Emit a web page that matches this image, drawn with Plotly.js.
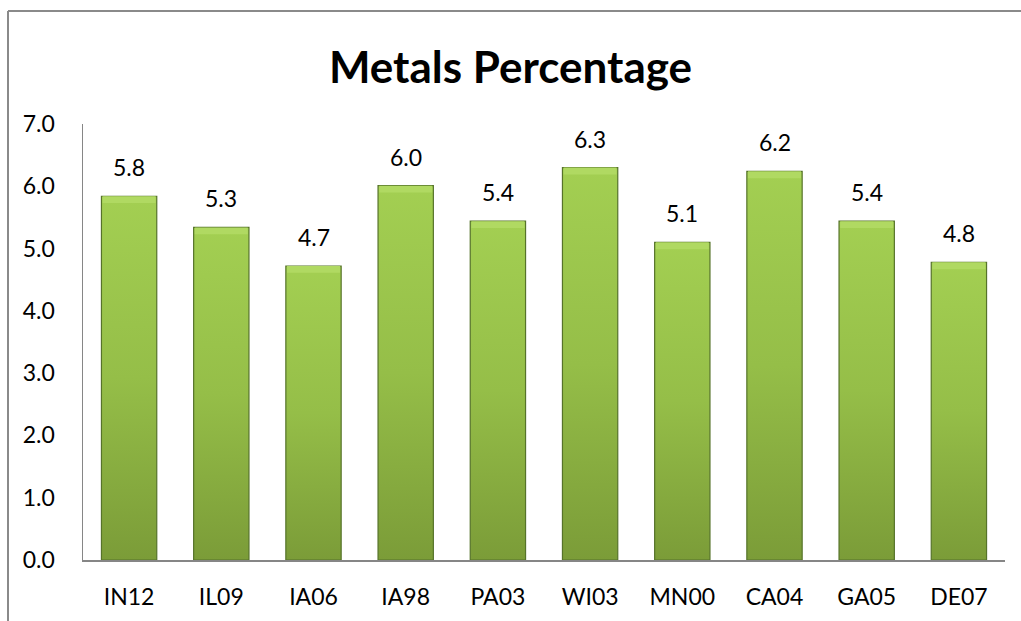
<!DOCTYPE html>
<html>
<head>
<meta charset="utf-8">
<script src="https://cdn.plot.ly/plotly-3.0.1.min.js"></script>
<style>
  html, body { margin: 0; padding: 0; background: #ffffff; overflow: hidden; }
  #chart { width: 1021px; height: 621px; }
</style>
</head>
<body>
<div id="chart"></div>
<script>
// ---- data ----
const categories = ["IN12", "IL09", "IA06", "IA98", "PA03", "WI03", "MN00", "CA04", "GA05", "DE07"];
const metalsPct  = [5.84, 5.34, 4.72, 6.01, 5.44, 6.30, 5.10, 6.24, 5.44, 4.78];
const yTickVals  = [0, 1, 2, 3, 4, 5, 6, 7];
const yTickText  = ["0.0", "1.0", "2.0", "3.0", "4.0", "5.0", "6.0", "7.0"];
const chartTitle = "Metals Percentage";

const FONT = "Lato, 'Open Sans', sans-serif";
const BAR_W = 0.6;
const BEVEL = 0.11; // depth of the lighter bevel band at the top of each bar (axis units)

const barTrace = {
  type: "bar",
  x: categories,
  y: metalsPct,
  width: BAR_W,
  marker: { color: "#95bd48", line: { color: "#56732a", width: 1.2 } },
  hoverinfo: "x+y",
  cliponaxis: false
};

const bevelTrace = {
  type: "bar",
  x: categories,
  base: metalsPct.map(v => v - BEVEL),
  y: metalsPct.map(() => BEVEL),
  width: BAR_W - 0.025,
  marker: { color: "#b0d962", line: { width: 0 } },
  hoverinfo: "skip"
};

const labelAnnotations = categories.map((c, i) => ({
  x: c, y: metalsPct[i], xref: "x", yref: "y",
  text: metalsPct[i].toFixed(1),
  showarrow: false, yanchor: "bottom", yshift: 13,
  font: { family: FONT, size: 23, color: "#000000" }
}));

// outer frame (left and top edges of the chart box)
const plotL = 83, plotT = 124, plotW = 922, plotH = 436;
const fx = (px) => (px - plotL) / plotW;
const fy = (py) => 1 - (py - plotT) / plotH;

const layout = {
  width: 1021, height: 621,
  margin: { l: plotL, r: 1021 - plotL - plotW, t: plotT, b: 621 - plotT - plotH, pad: 0 },
  paper_bgcolor: "#ffffff", plot_bgcolor: "#ffffff",
  title: {
    text: "<b>" + chartTitle + "</b>",
    font: { family: FONT, size: 44, color: "#000000" },
    x: 0.5, xanchor: "center", xref: "container",
    y: 1 - 68 / 621, yanchor: "middle", yref: "container"
  },
  barmode: "overlay",
  showlegend: false,
  xaxis: {
    type: "category",
    showline: true, linecolor: "#868686", linewidth: 1.5,
    ticks: "", showgrid: false, zeroline: false,
    ticklabelstandoff: 16,
    tickfont: { family: FONT, size: 23, color: "#000000" }
  },
  yaxis: {
    range: [0, 7],
    tickvals: yTickVals, ticktext: yTickText,
    showline: true, linecolor: "#868686", linewidth: 1.5,
    ticks: "", showgrid: false, zeroline: false,
    ticklabelstandoff: 22,
    tickfont: { family: FONT, size: 23, color: "#000000" }
  },
  annotations: labelAnnotations,
  shapes: [
    { type: "line", xref: "paper", yref: "paper", x0: fx(8), x1: fx(8), y0: fy(11), y1: fy(700),
      line: { color: "#8a8a8a", width: 2 } },
    { type: "line", xref: "paper", yref: "paper", x0: fx(8), x1: fx(1100), y0: fy(11), y1: fy(11),
      line: { color: "#8a8a8a", width: 2 } }
  ]
};

Plotly.newPlot("chart", [barTrace, bevelTrace], layout, { displayModeBar: false, staticPlot: true }).then(() => {
  // vertical green gradient on the main bars, like the original shaded fill
  const svg = document.querySelector("#chart svg.main-svg");
  const ns = "http://www.w3.org/2000/svg";
  let defs = svg.querySelector("defs");
  if (!defs) { defs = document.createElementNS(ns, "defs"); svg.insertBefore(defs, svg.firstChild); }
  const g = document.createElementNS(ns, "linearGradient");
  g.setAttribute("id", "barGrad");
  g.setAttribute("x1", "0"); g.setAttribute("y1", "0"); g.setAttribute("x2", "0"); g.setAttribute("y2", "1");
  [["0", "#a3cf52"], ["0.5", "#95be48"], ["1", "#7b9c38"]].forEach(([o, c]) => {
    const s = document.createElementNS(ns, "stop");
    s.setAttribute("offset", o); s.setAttribute("stop-color", c);
    g.appendChild(s);
  });
  defs.appendChild(g);
  const traces = document.querySelectorAll("#chart .barlayer .trace");
  if (traces.length) {
    traces[0].querySelectorAll(".point path").forEach(p => { p.style.fill = "url(#barGrad)"; });
  }
});
</script>
</body>
</html>
